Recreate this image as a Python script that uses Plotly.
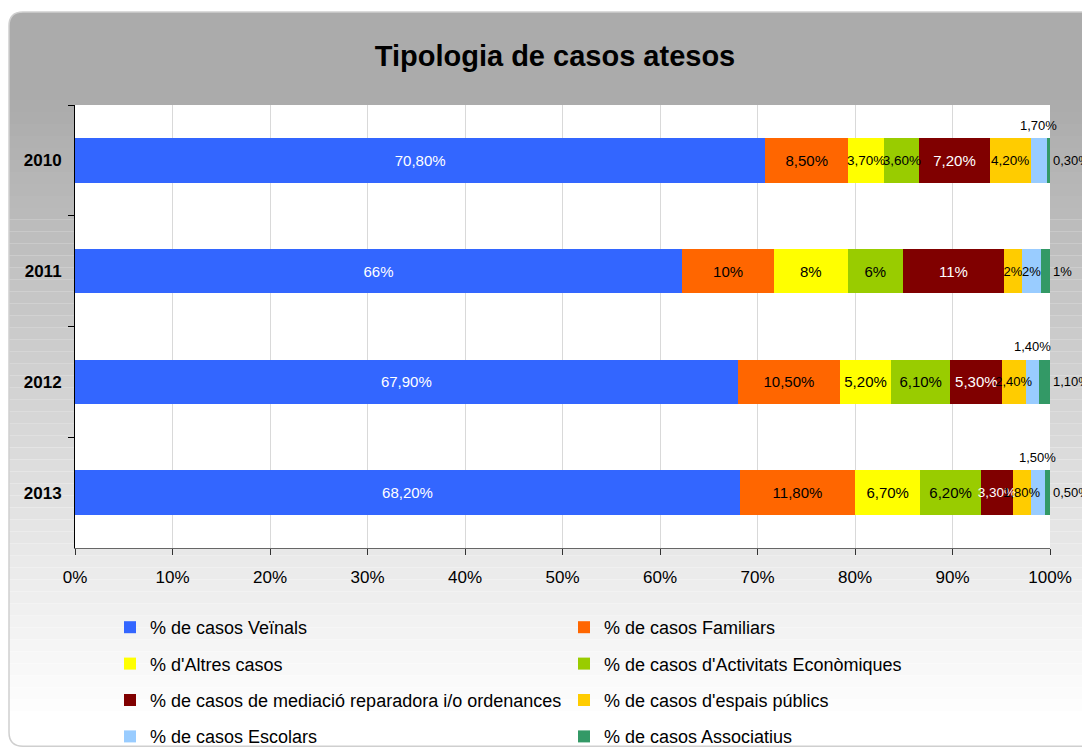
import plotly.graph_objects as go

# ---------------- data ----------------
years = ["2010", "2011", "2012", "2013"]

series_names = [
    "% de casos Veïnals",
    "% de casos Familiars",
    "% d'Altres casos",
    "% de casos d'Activitats Econòmiques",
    "% de casos de mediació reparadora i/o ordenances",
    "% de casos d'espais públics",
    "% de casos Escolars",
    "% de casos Associatius",
]

veinals = [70.8, 66, 67.9, 68.2]
familiars = [8.5, 10, 10.5, 11.8]
altres = [3.7, 8, 5.2, 6.7]
activitats = [3.6, 6, 6.1, 6.2]
mediacio = [7.2, 11, 5.3, 3.3]
espais = [4.2, 2, 2.4, 1.8]
escolars = [1.7, 2, 1.4, 1.5]
associatius = [0.3, 1, 1.1, 0.5]

all_values = [veinals, familiars, altres, activitats, mediacio, espais, escolars, associatius]

# ---------------- styling ----------------
colors = ["#3366FF", "#FF6600", "#FFFF00", "#99CC00", "#800000", "#FFCC00", "#99CCFF", "#339966"]
text_colors = ["white", "black", "black", "black", "white", "black", "black", "black"]
legend_ids = ["legend", "legend2"] * 4
FONT = "Liberation Sans, Arial, sans-serif"
BIG_LABEL, SMALL_LABEL, TINY_LABEL = 15, 13.5, 13
W, H = 1082, 749
L, T = 75, 105
R = W - 1050
B = H - 548.5
PW, PH = W - L - R, H - T - B


def fmt(v):
    if float(v).is_integer():
        return f"{int(v)}%"
    return f"{v:.2f}".replace(".", ",") + "%"


totals = [sum(s[i] for s in all_values) for i in range(len(years))]
ABOVE_THRESHOLD = 1.8  # share (%) below which the Escolars label sits above the bar

fig = go.Figure()
annotations = []
label_texts, label_sizes = [], []
for k, (name, vals) in enumerate(zip(series_names, all_values)):
    texts = [fmt(v) for v in vals]
    sizes = []
    for i, v in enumerate(vals):
        share = v / totals[i] * 100
        sizes.append(BIG_LABEL if share >= 5 else (SMALL_LABEL if share >= 3 else TINY_LABEL))
    if k == 6:
        for i, v in enumerate(vals):
            share = v / totals[i] * 100
            if share < ABOVE_THRESHOLD:
                texts[i] = ""
                before = sum(all_values[j][i] for j in range(k))
                xc = (before + v / 2) / totals[i] * 100
                annotations.append(dict(
                    x=xc, y=i, xref="x", yref="y", text=fmt(v),
                    showarrow=False, yshift=35,
                    font=dict(family=FONT, size=TINY_LABEL, color="black"),
                ))
    label_texts.append(texts)
    label_sizes.append(sizes)
    # coloured bars (no text)
    fig.add_trace(go.Bar(
        y=years, x=vals, orientation="h", name=name,
        marker=dict(color=colors[k], line=dict(width=0)),
        legend=legend_ids[k], legendgroup=name,
        hoverinfo="skip", xaxis="x", yaxis="y",
    ))

# transparent copies on an overlaying axis so that every label sits above all bars
for k, (name, vals) in enumerate(zip(series_names, all_values)):
    textpos = "outside" if k == len(series_names) - 1 else "inside"
    fig.add_trace(go.Bar(
        y=years, x=vals, orientation="h", name=name, showlegend=False,
        marker=dict(color="rgba(0,0,0,0)", line=dict(width=0)),
        text=label_texts[k], textposition=textpos, insidetextanchor="middle", textangle=0,
        textfont=dict(family=FONT, size=label_sizes[k], color=text_colors[k]),
        outsidetextfont=dict(family=FONT, size=label_sizes[k], color="black"),
        constraintext="none", cliponaxis=False,
        hoverinfo="skip", xaxis="x2", yaxis="y",
    ))

# ---------------- background panel (gradient bands) ----------------
def px(x):
    return (x - L) / PW


def py(y):
    return (H - B - y) / PH


shapes = []
r = 14
x0, y0, yb = 9, 12, 101
path = (f"M {px(x0)},{py(yb)} L {px(x0)},{py(y0 + r)} "
        f"Q {px(x0)},{py(y0)} {px(x0 + r)},{py(y0)} "
        f"L {px(1100)},{py(y0)} L {px(1100)},{py(yb)} Z")
shapes.append(dict(type="path", path=path, xref="paper", yref="paper",
                   fillcolor="#ababab", line=dict(width=0), layer="below"))
step = 12
y = 100
while y < 748:
    g = int(round(min(255, 171 + (y + step / 2 - 100) / 620 * 84)))
    col = f"rgb({g},{g},{g})"
    shapes.append(dict(type="rect", xref="paper", yref="paper",
                       x0=px(x0), x1=px(1100), y0=py(min(y + step, 747)), y1=py(y),
                       fillcolor=col, line=dict(width=0), layer="below"))
    y += step
y1b = 747
border = (f"M {px(1100)},{py(y0)} L {px(x0 + r)},{py(y0)} "
          f"Q {px(x0)},{py(y0)} {px(x0)},{py(y0 + r)} "
          f"L {px(x0)},{py(y1b - r)} Q {px(x0)},{py(y1b)} {px(x0 + r)},{py(y1b)} "
          f"L {px(1100)},{py(y1b)}")
shapes.append(dict(type="path", path=border, xref="paper", yref="paper",
                   line=dict(color="#cfcfcf", width=1.5), layer="below"))
# white plotting area
shapes.append(dict(type="rect", xref="paper", yref="paper", x0=0, x1=1, y0=0, y1=1,
                   fillcolor="white", line=dict(width=0), layer="below"))

legend_common = dict(xref="container", xanchor="left", yref="container", yanchor="top",
                     orientation="v", traceorder="grouped", tracegroupgap=10,
                     bgcolor="rgba(0,0,0,0)",
                     font=dict(family=FONT, size=18, color="black"))

fig.update_layout(
    width=W, height=H,
    margin=dict(l=L, r=R, t=T, b=B, autoexpand=False),
    paper_bgcolor="white", plot_bgcolor="white",
    font=dict(family=FONT, color="black"),
    barmode="stack", barnorm="percent", bargap=0.6,
    title=dict(text="<b>Tipologia de casos atesos</b>", x=555 / W, xanchor="center",
               xref="container", y=1 - 56 / H, yref="container", yanchor="middle",
               font=dict(family=FONT, size=29, color="black")),
    xaxis=dict(range=[0, 100], autorange=False, dtick=10, ticksuffix="%", showgrid=True,
               gridcolor="#d9d9d9", gridwidth=1, zeroline=False,
               showline=True, linecolor="#666666", linewidth=1,
               ticks="outside", ticklen=6, tickcolor="#333333",
               tickfont=dict(family=FONT, size=17, color="black"),
               ticklabelstandoff=8, fixedrange=True, automargin=False),
    xaxis2=dict(range=[0, 100], autorange=False, overlaying="x", matches="x",
                visible=False, showgrid=False, zeroline=False, fixedrange=True),
    yaxis=dict(type="category", categoryorder="array", categoryarray=years,
               range=[len(years) - 0.5, -0.5], autorange=False,
               showgrid=False, zeroline=False,
               showline=True, linecolor="black", linewidth=1,
               ticks="outside", tickson="boundaries", ticklen=6, tickcolor="black",
               tickfont=dict(family=FONT, size=17, color="black", weight="bold"),
               ticklabelstandoff=9, fixedrange=True, automargin=False),
    legend=dict(x=110 / W, y=1 - 609 / H, **legend_common),
    legend2=dict(x=564 / W, y=1 - 609 / H, **legend_common),
    shapes=shapes,
    annotations=annotations,
    showlegend=True,
)

fig.write_html(
    "out.html",
    config={"displayModeBar": False},
    post_script="document.documentElement.style.overflow='hidden';"
                "document.body.style.overflow='hidden';"
                "document.body.style.margin='0';document.body.style.padding='0';",
)
